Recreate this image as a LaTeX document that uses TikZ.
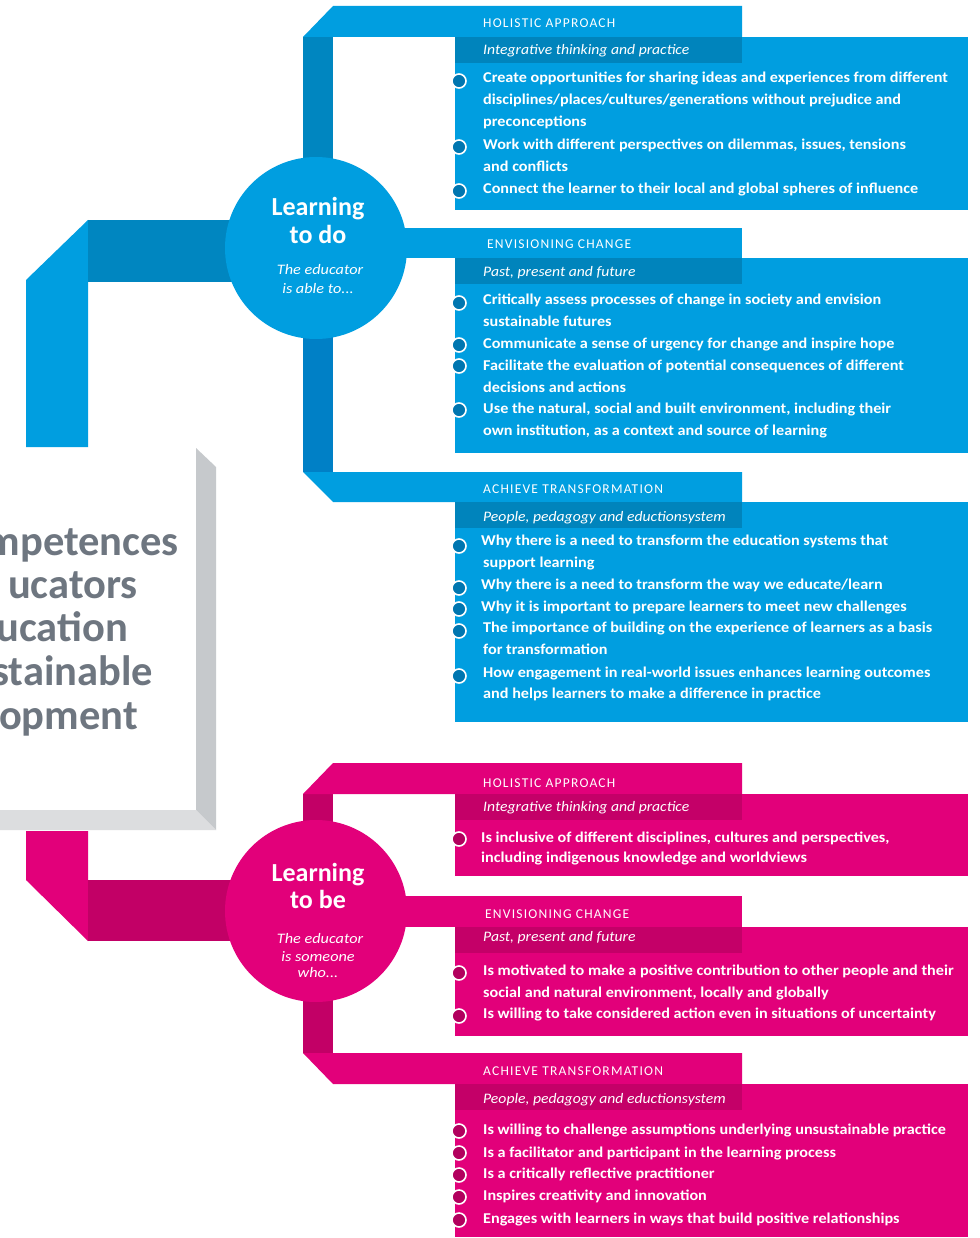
\documentclass[tikz,border=0pt]{standalone}
\usepackage{fontspec}
\setmainfont{Carlito}
\newfontfamily\itemfont{Carlito}[FakeStretch=1.08]
\newfontfamily\hdrfont{Carlito}[LetterSpace=9]
\newfontfamily\subfont{Carlito}[FakeStretch=1.08]
\newfontfamily\circfont{Carlito}[FakeStretch=1.12]
\definecolor{blueL}{RGB}{0,158,224}
\definecolor{blueD}{RGB}{0,134,192}
\definecolor{blueT}{RGB}{0,128,198}
\definecolor{blueS}{RGB}{0,132,188}
\definecolor{blueB}{RGB}{0,118,176}
\definecolor{pinkL}{RGB}{226,0,122}
\definecolor{pinkD}{RGB}{194,0,102}
\definecolor{pinkS}{RGB}{196,0,104}
\definecolor{pinkB}{RGB}{178,0,94}
\definecolor{greyR}{RGB}{198,201,204}
\definecolor{greyB}{RGB}{220,221,223}
\definecolor{greyT}{RGB}{110,118,128}
\tikzset{
 itemline/.style={anchor=base west, inner sep=0, text=white, font=\itemfont\fontsize{15}{17}\selectfont\bfseries},
 hdrtext/.style={anchor=base west, inner sep=0, text=white, font=\hdrfont\fontsize{13.5}{15}\selectfont},
 subtext/.style={anchor=base west, inner sep=0, text=white, font=\subfont\fontsize{14.5}{16}\selectfont\itshape},
 bulletdot/.style={circle, draw=white, line width=1.6pt, minimum size=14pt, inner sep=0, fill=#1},
 circbg/.style={circle, fill=#1, minimum size=182pt, inner sep=0},
 circbig/.style={anchor=base, inner sep=0, text=white, font=\fontsize{26}{28}\selectfont\bfseries},
 circsmall/.style={anchor=base, inner sep=0, text=white, font=\circfont\fontsize{14.5}{16}\selectfont\itshape},
 greytext/.style={anchor=base east, inner sep=0, text=greyT, font=\fontsize{42.5}{45}\selectfont\bfseries}
}
\begin{document}
\begin{tikzpicture}[x=1pt,y=-1pt]
\useasboundingbox (0,0) rectangle (979,1238);
\fill[white] (0,0) rectangle (979,1238);

% ---------- grey title box ----------
\fill[greyR] (196,448) -- (216,467) -- (216,830) -- (196,810) -- cycle;
\fill[greyB] (0,810) -- (196,810) -- (216,830) -- (0,830) -- cycle;
\begin{scope}
\clip (0,440) rectangle (196,810);
\node[greytext] (g1) at (179,555) {mpetences};
\node[greytext] (g2) at (138,598) {ucators};
\node[greytext] (g3) at (128,641) {ucation};
\node[greytext] (g4) at (153,685) {stainable};
\node[greytext] (g5) at (138,729) {opment};
\end{scope}

% ---------- BLUE : Learning to do ----------
\fill[blueL] (26,447) -- (26,280) -- (88,220) -- (88,447) -- cycle;
\fill[blueD] (88,220) rectangle (260,282);
\fill[blueD] (303,37) rectangle (333,248);
\fill[blueT] (303,248) rectangle (333,472);
% boxes
\fill[blueL] (455,37) rectangle (968,210);
\fill[blueL] (455,258) rectangle (968,453);
\fill[blueL] (455,502) rectangle (968,722);
% headers
\fill[blueL] (303,37) -- (333,6) -- (742,6) -- (742,37) -- cycle;
\fill[blueL] (370,228) rectangle (742,258);
\fill[blueL] (303,472) -- (742,472) -- (742,502) -- (333,502) -- cycle;
% sub headers
\fill[blueS] (455,37) rectangle (742,63);
\fill[blueS] (455,258) rectangle (742,284);
\fill[blueS] (455,502) rectangle (742,528);
% circle
\node[circbg=blueL] (ltd) at (316,248) {};
\node[circbig] (ltd1) at (318,216) {Learning};
\node[circbig] (ltd2) at (318,244) {to do};
\node[circsmall] (ltd3) at (320,275) {The educator};
\node[circsmall] (ltd4) at (318,294) {is able to...};

% box 1
\node[hdrtext] (bh1) at (483,28) {HOLISTIC APPROACH};
\node[subtext] (bs1) at (483,55) {Integrative thinking and practice};
\node[bulletdot=blueB] (bb11) at (459,81) {};
\node[bulletdot=blueB] (bb12) at (459,147) {};
\node[bulletdot=blueB] (bb13) at (459,191) {};
\node[itemline] (bt11) at (483,83) {Create opportunities for sharing ideas and experiences from different};
\node[itemline] (bt12) at (483,105) {disciplines/places/cultures/generations without prejudice and};
\node[itemline] (bt13) at (483,127) {preconceptions};
\node[itemline] (bt14) at (483,150) {Work with different perspectives on dilemmas, issues, tensions};
\node[itemline] (bt15) at (483,172) {and conflicts};
\node[itemline] (bt16) at (483,194) {Connect the learner to their local and global spheres of influence};

% box 2
\node[hdrtext] (bh2) at (487,249) {ENVISIONING CHANGE};
\node[subtext] (bs2) at (483,277) {Past, present and future};
\node[bulletdot=blueB] (bb21) at (459,303) {};
\node[bulletdot=blueB] (bb22) at (459,345) {};
\node[bulletdot=blueB] (bb23) at (459,366) {};
\node[bulletdot=blueB] (bb24) at (459,410) {};
\node[itemline] (bt21) at (483,305) {Critically assess processes of change in society and envision};
\node[itemline] (bt22) at (483,326) {sustainable futures};
\node[itemline] (bt23) at (483,348) {Communicate a sense of urgency for change and inspire hope};
\node[itemline] (bt24) at (483,370) {Facilitate the evaluation of potential consequences of different};
\node[itemline] (bt25) at (483,392) {decisions and actions};
\node[itemline] (bt26) at (483,413) {Use the natural, social and built environment, including their};
\node[itemline] (bt27) at (483,435) {own institution, as a context and source of learning};

% box 3
\node[hdrtext] (bh3) at (483,493) {ACHIEVE TRANSFORMATION};
\node[subtext] (bs3) at (483,521) {People, pedagogy and eductionsystem};
\node[bulletdot=blueB] (bb31) at (459,546) {};
\node[bulletdot=blueB] (bb32) at (459,588) {};
\node[bulletdot=blueB] (bb33) at (459,609) {};
\node[bulletdot=blueB] (bb34) at (459,631) {};
\node[bulletdot=blueB] (bb35) at (459,676) {};
\node[itemline] (bt31) at (481,545) {Why there is a need to transform the education systems that};
\node[itemline] (bt32) at (483,567) {support learning};
\node[itemline] (bt33) at (481,589) {Why there is a need to transform the way we educate/learn};
\node[itemline] (bt34) at (481,611) {Why it is important to prepare learners to meet new challenges};
\node[itemline] (bt35) at (483,632) {The importance of building on the experience of learners as a basis};
\node[itemline] (bt36) at (483,654) {for transformation};
\node[itemline] (bt37) at (483,677) {How engagement in real-world issues enhances learning outcomes};
\node[itemline] (bt38) at (483,698) {and helps learners to make a difference in practice};

% ---------- PINK : Learning to be ----------
\fill[pinkL] (26,831) -- (88,831) -- (88,941) -- (26,880) -- cycle;
\fill[pinkD] (88,880) rectangle (260,941);
\fill[pinkD] (303,794) rectangle (333,1053);
% boxes
\fill[pinkL] (455,794) rectangle (968,876);
\fill[pinkL] (455,927) rectangle (968,1036);
\fill[pinkL] (455,1084) rectangle (968,1237);
% headers
\fill[pinkL] (303,794) -- (333,763) -- (742,763) -- (742,794) -- cycle;
\fill[pinkL] (370,896) rectangle (742,927);
\fill[pinkL] (303,1053) -- (742,1053) -- (742,1084) -- (333,1084) -- cycle;
% sub headers
\fill[pinkS] (455,794) rectangle (742,820);
\fill[pinkS] (455,927) rectangle (742,953);
\fill[pinkS] (455,1084) rectangle (742,1110);
% circle
\node[circbg=pinkL] (ltb) at (316,911) {};
\node[circbig] (ltb1) at (318,881) {Learning};
\node[circbig] (ltb2) at (318,908) {to be};
\node[circsmall] (ltb3) at (320,943) {The educator};
\node[circsmall] (ltb4) at (318,961) {is someone};
\node[circsmall] (ltb5) at (318,977) {who...};

% pink box 1
\node[hdrtext] (ph1) at (483,787) {HOLISTIC APPROACH};
\node[subtext] (ps1) at (483,811) {Integrative thinking and practice};
\node[bulletdot=pinkB] (pb11) at (459,839) {};
\node[itemline] (pt11) at (481,842) {Is inclusive of different disciplines, cultures and perspectives,};
\node[itemline] (pt12) at (481,862) {including indigenous knowledge and worldviews};

% pink box 2
\node[hdrtext] (ph2) at (485,918) {ENVISIONING CHANGE};
\node[subtext] (ps2) at (483,941) {Past, present and future};
\node[bulletdot=pinkB] (pb21) at (459,973) {};
\node[bulletdot=pinkB] (pb22) at (459,1016) {};
\node[itemline] (pt21) at (483,975) {Is motivated to make a positive contribution to other people and their};
\node[itemline] (pt22) at (483,997) {social and natural environment, locally and globally};
\node[itemline] (pt23) at (483,1018) {Is willing to take considered action even in situations of uncertainty};

% pink box 3
\node[hdrtext] (ph3) at (483,1075) {ACHIEVE TRANSFORMATION};
\node[subtext] (ps3) at (483,1103) {People, pedagogy and eductionsystem};
\node[bulletdot=pinkB] (pb31) at (459,1131) {};
\node[bulletdot=pinkB] (pb32) at (459,1153) {};
\node[bulletdot=pinkB] (pb33) at (459,1175) {};
\node[bulletdot=pinkB] (pb34) at (459,1197) {};
\node[bulletdot=pinkB] (pb35) at (459,1220) {};
\node[itemline] (pt31) at (483,1134) {Is willing to challenge assumptions underlying unsustainable practice};
\node[itemline] (pt32) at (483,1157) {Is a facilitator and participant in the learning process};
\node[itemline] (pt33) at (483,1178) {Is a critically reflective practitioner};
\node[itemline] (pt34) at (483,1200) {Inspires creativity and innovation};
\node[itemline] (pt35) at (483,1223) {Engages with learners in ways that build positive relationships};
\end{tikzpicture}
\end{document}
